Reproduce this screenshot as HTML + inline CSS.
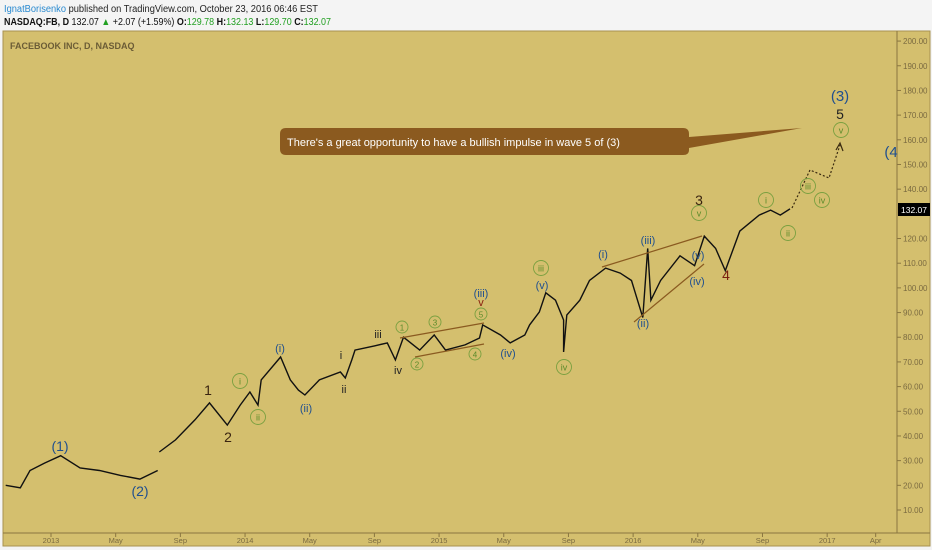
<!DOCTYPE html>
<html><head><meta charset="utf-8"><style>
body{margin:0;background:#f2f2f2;font-family:"Liberation Sans",sans-serif;}
svg{display:block}
</style></head><body>
<svg width="932" height="550" viewBox="0 0 932 550" xmlns="http://www.w3.org/2000/svg" font-family="Liberation Sans, sans-serif">
<rect x="0" y="0" width="932" height="550" fill="#f4f4f4"/>
<text x="4" y="12" font-size="10" textLength="314" lengthAdjust="spacingAndGlyphs"><tspan fill="#2a8ad0">IgnatBorisenko</tspan><tspan fill="#222"> published on TradingView.com, October 23, 2016 06:46 EST</tspan></text>
<text x="4" y="25" font-size="10" fill="#111" textLength="327" lengthAdjust="spacingAndGlyphs"><tspan font-weight="bold">NASDAQ:FB, D</tspan> 132.07 <tspan fill="#22a022">▲</tspan> +2.07 (+1.59%) <tspan font-weight="bold">O:</tspan><tspan fill="#22a022">129.78</tspan> <tspan font-weight="bold">H:</tspan><tspan fill="#22a022">132.13</tspan> <tspan font-weight="bold">L:</tspan><tspan fill="#22a022">129.70</tspan> <tspan font-weight="bold">C:</tspan><tspan fill="#22a022">132.07</tspan></text>
<rect x="3" y="31" width="927" height="515" fill="#d4bf6e" stroke="#a89250"/>
<line x1="897" y1="31" x2="897" y2="533" stroke="#8a7640"/>
<line x1="3" y1="533" x2="930" y2="533" stroke="#8a7640"/>
<text x="10" y="49" font-size="9" font-weight="bold" fill="#6b5c36">FACEBOOK INC, D, NASDAQ</text>
<g id="yaxis"></g>
<g id="xaxis"></g>
<g id="series"></g>
<g stroke="#8a5a20" stroke-width="1.2">
<line x1="400" y1="338" x2="484" y2="323"/><line x1="415" y1="357" x2="484" y2="344"/>
<line x1="602" y1="267" x2="702" y2="236"/><line x1="634" y1="322" x2="704" y2="264"/>
</g>
<polyline points="792,208 810,170 829,178 840,145" fill="none" stroke="#3a2a10" stroke-width="1.2" stroke-dasharray="2,2"/>
<polyline points="836,150 840,143 843,151" fill="none" stroke="#3a2a10" stroke-width="1.2"/>
<path d="M286,128 H683 Q689,128 689,134 V137 L802,128 L689,148 V150 Q689,155 683,155 H286 Q280,155 280,149 V134 Q280,128 286,128 Z" fill="#8b5a1f"/>
<text x="287" y="146" font-size="11" fill="#fff">There's a great opportunity to have a bullish impulse in wave 5 of (3)</text>
<g id="labels"></g>
<rect x="898" y="203" width="32" height="13" fill="#000"/>
<text x="914" y="213" font-size="8.5" fill="#fff" text-anchor="middle">132.07</text>
</svg>
<script>
const months=[-2.8,-1.9,-1.3,-0.4,0.6,1.8,3.0,4.3,5.5,6.6,6.7,7.7,8.9,9.8,10.9,11.7,12.3,12.8,13.0,14.2,14.8,15.3,15.7,16.6,17.9,18.2,18.6,18.8,20.0,20.8,21.3,21.8,22.8,23.7,24.4,25.6,26.5,26.7,27.8,28.4,29.3,29.6,30.2,30.6,31.2,31.7,31.7,31.9,32.7,33.3,34.3,35.2,35.9,36.6,36.9,37.1,37.7,38.9,39.8,40.4,41.1,41.7,42.6,43.8,44.5,45.1,45.7];
const prices=[20,19,26,29,32,27,26,24,22.5,26,33.5,38.4,46.5,53.4,44.4,52.5,57.8,52.5,62.7,72,62.7,58.6,56.6,62.7,65.9,63.5,70.8,74.8,76.5,77.7,70.8,80,74.8,80.9,74.8,76.9,79.7,85,80.9,77.7,80.9,85,90.2,98,95,87,74,89,95,103,108,106,103,88,116,95,103,113,109,121,116,107,123,129.5,131.5,129.5,132];
const yTicks=[10,20,30,40,50,60,70,80,90,100,110,120,130,140,150,160,170,180,190,200];
const xTickMonths=[0,4,8,12,16,20,24,28,32,36,40,44,48,51];
const xTickLabels=["2013","May","Sep","2014","May","Sep","2015","May","Sep","2016","May","Sep","2017","Apr"];
const NS="http://www.w3.org/2000/svg";
function x(m){return 51+m*16.17;}
function y(p){return 510-(p-10)*2.468;}
function mk(t,a,parent,txt){const e=document.createElementNS(NS,t);for(const k in a)e.setAttribute(k,a[k]);if(txt!==undefined)e.textContent=txt;parent.appendChild(e);return e;}
const ya=document.getElementById('yaxis');
yTicks.forEach(v=>{
  if(v===130)return;
  const l=mk('line',{x1:897,x2:901,y1:y(v),y2:y(v),stroke:'#8a7640'},ya);
  
  
  const t=mk('text',{x:903,y:y(v)+3,'font-size':8,fill:'#7a6a40'},ya,v.toFixed(2));
  
  
});
const xa=document.getElementById('xaxis');
xTickMonths.forEach((m,i)=>{
  const l=mk('line',{x1:x(m),x2:x(m),y1:533,y2:537,stroke:'#8a7640'},xa);
  
  
  const t=mk('text',{x:x(m),y:543,'font-size':7.5,fill:'#7a6a40','text-anchor':'middle'},xa,xTickLabels[i]);
  
  
});
const sg=document.getElementById('series');
let seg=[];
function flush(){if(seg.length){const p=mk('polyline',{points:seg.join(' '),fill:'none',stroke:'#111','stroke-width':1.4},sg);seg=[];}}
months.forEach((m,i)=>{
  if(i===10)flush();
  seg.push(x(m).toFixed(1)+','+y(prices[i]).toFixed(1));
});
flush();
const lg=document.getElementById('labels');
const labels=[
["(1)",60,451,"#1f4f8f",14,0],["(2)",140,496,"#1f4f8f",14,0],["1",208,395,"#3a2410",14,0],["2",228,442,"#3a2410",14,0],
["i",240,381,"#5a8a2a",9,1],["ii",258,417,"#5a8a2a",9,1],["(i)",280,352,"#1f4f8f",11,0],["(ii)",306,412,"#1f4f8f",11,0],
["i",341,359,"#222",11,0],["ii",344,393,"#222",11,0],["iii",378,338,"#222",11,0],["iv",398,374,"#222",11,0],
["1",402,327,"#5a8a2a",8,1],["2",417,364,"#5a8a2a",8,1],["3",435,322,"#5a8a2a",8,1],["4",475,354,"#5a8a2a",8,1],["5",481,314,"#5a8a2a",8,1],
["(iii)",481,297,"#1f4f8f",11,0],["v",481,306,"#8a2010",11,0],["(iv)",508,357,"#1f4f8f",11,0],["iii",541,268,"#5a8a2a",9,1],
["(v)",542,289,"#1f4f8f",11,0],["iv",564,367,"#5a8a2a",9,1],["(i)",603,258,"#1f4f8f",11,0],["(ii)",643,327,"#1f4f8f",11,0],
["(iii)",648,244,"#1f4f8f",11,0],["(iv)",697,285,"#1f4f8f",11,0],["(v)",698,259,"#1f4f8f",11,0],["v",699,213,"#5a8a2a",9,1],
["3",699,205,"#3a2410",14,0],["4",726,280,"#7a2010",14,0],["i",766,200,"#5a8a2a",9,1],["ii",788,233,"#5a8a2a",9,1],
["iii",808,186,"#5a8a2a",9,1],["iv",822,200,"#5a8a2a",9,1],["v",841,130,"#5a8a2a",9,1],["5",840,119,"#222",14,0],["(3)",840,101,"#1f4f8f",15,0],["(4",891,157,"#1f4f8f",15,0]
];
labels.forEach(L=>{
  if(L[5]){
    const c=mk('circle',{cx:L[1],cy:L[2],r:L[4]===8?6:7.5,fill:'none',stroke:'#7aa040','stroke-width':0.9},lg);
    
    
    const t=mk('text',{x:L[1],y:L[2]+3.5,'font-size':L[4],fill:L[3],'text-anchor':'middle'},lg,L[0]);
    
    
  }else{
    const t=mk('text',{x:L[1],y:L[2],'font-size':L[4],fill:L[3],'text-anchor':'middle'},lg,L[0]);
    
    
  }
});
</script>
</body></html>
